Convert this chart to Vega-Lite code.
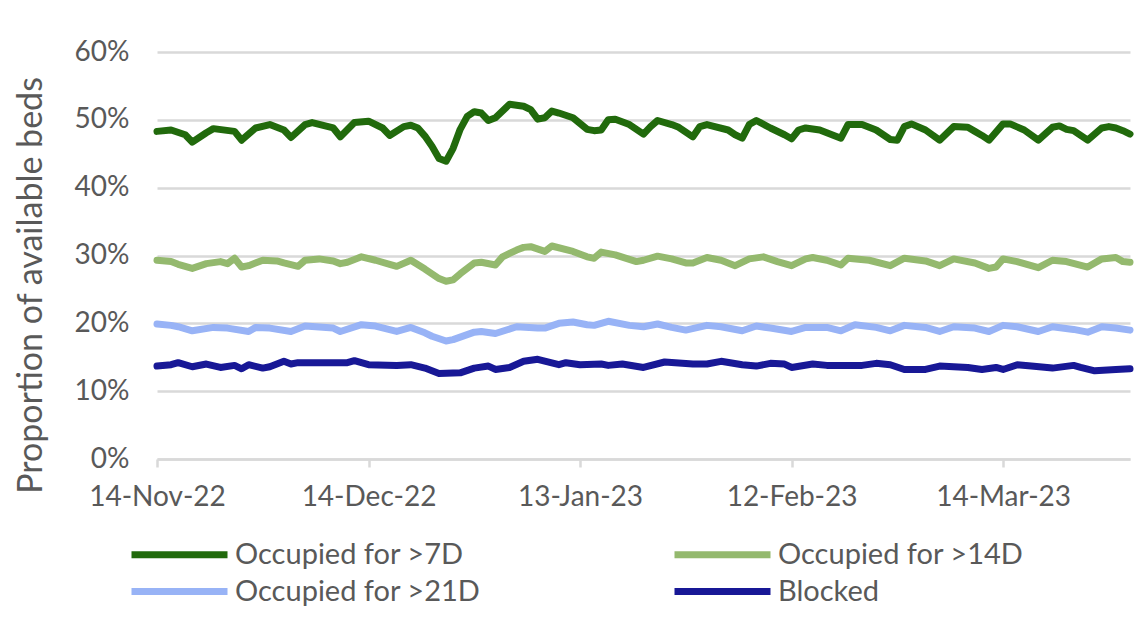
{
  "$schema": "https://vega.github.io/schema/vega-lite/v6.json",
  "width": 973,
  "height": 407,
  "autosize": {"type": "none"},
  "padding": {"left": 157, "top": 52, "right": 12, "bottom": 183},
  "background": "white",
  "config": {"font": "Lato", "view": {"stroke": null}},
  "datasets": {
    "beds": [
      {"s": "Occupied for >7D", "d": "2022-11-14", "v": 48.3},
      {"s": "Occupied for >7D", "d": "2022-11-16", "v": 48.5},
      {"s": "Occupied for >7D", "d": "2022-11-18", "v": 47.8},
      {"s": "Occupied for >7D", "d": "2022-11-19", "v": 46.7},
      {"s": "Occupied for >7D", "d": "2022-11-21", "v": 48.1},
      {"s": "Occupied for >7D", "d": "2022-11-22", "v": 48.7},
      {"s": "Occupied for >7D", "d": "2022-11-25", "v": 48.3},
      {"s": "Occupied for >7D", "d": "2022-11-26", "v": 47.0},
      {"s": "Occupied for >7D", "d": "2022-11-28", "v": 48.8},
      {"s": "Occupied for >7D", "d": "2022-11-30", "v": 49.3},
      {"s": "Occupied for >7D", "d": "2022-12-02", "v": 48.5},
      {"s": "Occupied for >7D", "d": "2022-12-03", "v": 47.4},
      {"s": "Occupied for >7D", "d": "2022-12-05", "v": 49.3},
      {"s": "Occupied for >7D", "d": "2022-12-06", "v": 49.6},
      {"s": "Occupied for >7D", "d": "2022-12-09", "v": 48.8},
      {"s": "Occupied for >7D", "d": "2022-12-10", "v": 47.5},
      {"s": "Occupied for >7D", "d": "2022-12-12", "v": 49.6},
      {"s": "Occupied for >7D", "d": "2022-12-14", "v": 49.8},
      {"s": "Occupied for >7D", "d": "2022-12-16", "v": 48.8},
      {"s": "Occupied for >7D", "d": "2022-12-17", "v": 47.7},
      {"s": "Occupied for >7D", "d": "2022-12-19", "v": 49.0},
      {"s": "Occupied for >7D", "d": "2022-12-20", "v": 49.2},
      {"s": "Occupied for >7D", "d": "2022-12-21", "v": 48.8},
      {"s": "Occupied for >7D", "d": "2022-12-22", "v": 47.6},
      {"s": "Occupied for >7D", "d": "2022-12-23", "v": 46.1},
      {"s": "Occupied for >7D", "d": "2022-12-24", "v": 44.3},
      {"s": "Occupied for >7D", "d": "2022-12-25", "v": 43.9},
      {"s": "Occupied for >7D", "d": "2022-12-26", "v": 45.8},
      {"s": "Occupied for >7D", "d": "2022-12-27", "v": 48.6},
      {"s": "Occupied for >7D", "d": "2022-12-28", "v": 50.5},
      {"s": "Occupied for >7D", "d": "2022-12-29", "v": 51.2},
      {"s": "Occupied for >7D", "d": "2022-12-30", "v": 51.0},
      {"s": "Occupied for >7D", "d": "2022-12-31", "v": 49.9},
      {"s": "Occupied for >7D", "d": "2023-01-01", "v": 50.3},
      {"s": "Occupied for >7D", "d": "2023-01-03", "v": 52.3},
      {"s": "Occupied for >7D", "d": "2023-01-05", "v": 52.0},
      {"s": "Occupied for >7D", "d": "2023-01-06", "v": 51.5},
      {"s": "Occupied for >7D", "d": "2023-01-07", "v": 50.1},
      {"s": "Occupied for >7D", "d": "2023-01-08", "v": 50.3},
      {"s": "Occupied for >7D", "d": "2023-01-09", "v": 51.3},
      {"s": "Occupied for >7D", "d": "2023-01-10", "v": 51.0},
      {"s": "Occupied for >7D", "d": "2023-01-12", "v": 50.3},
      {"s": "Occupied for >7D", "d": "2023-01-14", "v": 48.6},
      {"s": "Occupied for >7D", "d": "2023-01-15", "v": 48.4},
      {"s": "Occupied for >7D", "d": "2023-01-16", "v": 48.5},
      {"s": "Occupied for >7D", "d": "2023-01-17", "v": 50.0},
      {"s": "Occupied for >7D", "d": "2023-01-18", "v": 50.1},
      {"s": "Occupied for >7D", "d": "2023-01-20", "v": 49.3},
      {"s": "Occupied for >7D", "d": "2023-01-21", "v": 48.6},
      {"s": "Occupied for >7D", "d": "2023-01-22", "v": 47.9},
      {"s": "Occupied for >7D", "d": "2023-01-23", "v": 49.0},
      {"s": "Occupied for >7D", "d": "2023-01-24", "v": 49.9},
      {"s": "Occupied for >7D", "d": "2023-01-26", "v": 49.3},
      {"s": "Occupied for >7D", "d": "2023-01-27", "v": 48.9},
      {"s": "Occupied for >7D", "d": "2023-01-29", "v": 47.5},
      {"s": "Occupied for >7D", "d": "2023-01-30", "v": 49.0},
      {"s": "Occupied for >7D", "d": "2023-01-31", "v": 49.3},
      {"s": "Occupied for >7D", "d": "2023-02-03", "v": 48.5},
      {"s": "Occupied for >7D", "d": "2023-02-04", "v": 47.8},
      {"s": "Occupied for >7D", "d": "2023-02-05", "v": 47.3},
      {"s": "Occupied for >7D", "d": "2023-02-06", "v": 49.3},
      {"s": "Occupied for >7D", "d": "2023-02-07", "v": 49.9},
      {"s": "Occupied for >7D", "d": "2023-02-09", "v": 48.8},
      {"s": "Occupied for >7D", "d": "2023-02-11", "v": 47.8},
      {"s": "Occupied for >7D", "d": "2023-02-12", "v": 47.2},
      {"s": "Occupied for >7D", "d": "2023-02-13", "v": 48.5},
      {"s": "Occupied for >7D", "d": "2023-02-14", "v": 48.8},
      {"s": "Occupied for >7D", "d": "2023-02-16", "v": 48.5},
      {"s": "Occupied for >7D", "d": "2023-02-19", "v": 47.3},
      {"s": "Occupied for >7D", "d": "2023-02-20", "v": 49.3},
      {"s": "Occupied for >7D", "d": "2023-02-22", "v": 49.3},
      {"s": "Occupied for >7D", "d": "2023-02-24", "v": 48.5},
      {"s": "Occupied for >7D", "d": "2023-02-26", "v": 47.1},
      {"s": "Occupied for >7D", "d": "2023-02-27", "v": 47.0},
      {"s": "Occupied for >7D", "d": "2023-02-28", "v": 49.0},
      {"s": "Occupied for >7D", "d": "2023-03-01", "v": 49.4},
      {"s": "Occupied for >7D", "d": "2023-03-03", "v": 48.5},
      {"s": "Occupied for >7D", "d": "2023-03-05", "v": 47.0},
      {"s": "Occupied for >7D", "d": "2023-03-07", "v": 49.0},
      {"s": "Occupied for >7D", "d": "2023-03-09", "v": 48.9},
      {"s": "Occupied for >7D", "d": "2023-03-10", "v": 48.3},
      {"s": "Occupied for >7D", "d": "2023-03-11", "v": 47.7},
      {"s": "Occupied for >7D", "d": "2023-03-12", "v": 47.0},
      {"s": "Occupied for >7D", "d": "2023-03-14", "v": 49.4},
      {"s": "Occupied for >7D", "d": "2023-03-15", "v": 49.4},
      {"s": "Occupied for >7D", "d": "2023-03-17", "v": 48.5},
      {"s": "Occupied for >7D", "d": "2023-03-19", "v": 47.0},
      {"s": "Occupied for >7D", "d": "2023-03-21", "v": 48.9},
      {"s": "Occupied for >7D", "d": "2023-03-22", "v": 49.1},
      {"s": "Occupied for >7D", "d": "2023-03-23", "v": 48.6},
      {"s": "Occupied for >7D", "d": "2023-03-24", "v": 48.4},
      {"s": "Occupied for >7D", "d": "2023-03-26", "v": 47.0},
      {"s": "Occupied for >7D", "d": "2023-03-28", "v": 48.8},
      {"s": "Occupied for >7D", "d": "2023-03-29", "v": 49.0},
      {"s": "Occupied for >7D", "d": "2023-03-30", "v": 48.8},
      {"s": "Occupied for >7D", "d": "2023-03-31", "v": 48.4},
      {"s": "Occupied for >7D", "d": "2023-04-01", "v": 47.9},

      {"s": "Occupied for >14D", "d": "2022-11-14", "v": 29.3},
      {"s": "Occupied for >14D", "d": "2022-11-16", "v": 29.1},
      {"s": "Occupied for >14D", "d": "2022-11-17", "v": 28.7},
      {"s": "Occupied for >14D", "d": "2022-11-19", "v": 28.1},
      {"s": "Occupied for >14D", "d": "2022-11-21", "v": 28.8},
      {"s": "Occupied for >14D", "d": "2022-11-23", "v": 29.1},
      {"s": "Occupied for >14D", "d": "2022-11-24", "v": 28.8},
      {"s": "Occupied for >14D", "d": "2022-11-25", "v": 29.6},
      {"s": "Occupied for >14D", "d": "2022-11-26", "v": 28.3},
      {"s": "Occupied for >14D", "d": "2022-11-27", "v": 28.5},
      {"s": "Occupied for >14D", "d": "2022-11-29", "v": 29.3},
      {"s": "Occupied for >14D", "d": "2022-12-01", "v": 29.2},
      {"s": "Occupied for >14D", "d": "2022-12-02", "v": 28.9},
      {"s": "Occupied for >14D", "d": "2022-12-04", "v": 28.4},
      {"s": "Occupied for >14D", "d": "2022-12-05", "v": 29.3},
      {"s": "Occupied for >14D", "d": "2022-12-07", "v": 29.5},
      {"s": "Occupied for >14D", "d": "2022-12-09", "v": 29.2},
      {"s": "Occupied for >14D", "d": "2022-12-10", "v": 28.8},
      {"s": "Occupied for >14D", "d": "2022-12-11", "v": 29.0},
      {"s": "Occupied for >14D", "d": "2022-12-13", "v": 29.8},
      {"s": "Occupied for >14D", "d": "2022-12-15", "v": 29.3},
      {"s": "Occupied for >14D", "d": "2022-12-17", "v": 28.7},
      {"s": "Occupied for >14D", "d": "2022-12-18", "v": 28.4},
      {"s": "Occupied for >14D", "d": "2022-12-20", "v": 29.3},
      {"s": "Occupied for >14D", "d": "2022-12-22", "v": 28.0},
      {"s": "Occupied for >14D", "d": "2022-12-23", "v": 27.3},
      {"s": "Occupied for >14D", "d": "2022-12-24", "v": 26.6},
      {"s": "Occupied for >14D", "d": "2022-12-25", "v": 26.2},
      {"s": "Occupied for >14D", "d": "2022-12-26", "v": 26.4},
      {"s": "Occupied for >14D", "d": "2022-12-27", "v": 27.3},
      {"s": "Occupied for >14D", "d": "2022-12-29", "v": 28.9},
      {"s": "Occupied for >14D", "d": "2022-12-30", "v": 29.0},
      {"s": "Occupied for >14D", "d": "2023-01-01", "v": 28.6},
      {"s": "Occupied for >14D", "d": "2023-01-02", "v": 29.8},
      {"s": "Occupied for >14D", "d": "2023-01-04", "v": 30.8},
      {"s": "Occupied for >14D", "d": "2023-01-05", "v": 31.2},
      {"s": "Occupied for >14D", "d": "2023-01-06", "v": 31.3},
      {"s": "Occupied for >14D", "d": "2023-01-08", "v": 30.6},
      {"s": "Occupied for >14D", "d": "2023-01-09", "v": 31.4},
      {"s": "Occupied for >14D", "d": "2023-01-12", "v": 30.6},
      {"s": "Occupied for >14D", "d": "2023-01-14", "v": 29.8},
      {"s": "Occupied for >14D", "d": "2023-01-15", "v": 29.6},
      {"s": "Occupied for >14D", "d": "2023-01-16", "v": 30.5},
      {"s": "Occupied for >14D", "d": "2023-01-18", "v": 30.1},
      {"s": "Occupied for >14D", "d": "2023-01-21", "v": 29.1},
      {"s": "Occupied for >14D", "d": "2023-01-22", "v": 29.3},
      {"s": "Occupied for >14D", "d": "2023-01-24", "v": 29.9},
      {"s": "Occupied for >14D", "d": "2023-01-26", "v": 29.5},
      {"s": "Occupied for >14D", "d": "2023-01-28", "v": 28.9},
      {"s": "Occupied for >14D", "d": "2023-01-29", "v": 28.9},
      {"s": "Occupied for >14D", "d": "2023-01-31", "v": 29.7},
      {"s": "Occupied for >14D", "d": "2023-02-02", "v": 29.3},
      {"s": "Occupied for >14D", "d": "2023-02-04", "v": 28.5},
      {"s": "Occupied for >14D", "d": "2023-02-06", "v": 29.5},
      {"s": "Occupied for >14D", "d": "2023-02-08", "v": 29.8},
      {"s": "Occupied for >14D", "d": "2023-02-10", "v": 29.1},
      {"s": "Occupied for >14D", "d": "2023-02-12", "v": 28.5},
      {"s": "Occupied for >14D", "d": "2023-02-14", "v": 29.5},
      {"s": "Occupied for >14D", "d": "2023-02-15", "v": 29.7},
      {"s": "Occupied for >14D", "d": "2023-02-17", "v": 29.3},
      {"s": "Occupied for >14D", "d": "2023-02-19", "v": 28.6},
      {"s": "Occupied for >14D", "d": "2023-02-20", "v": 29.6},
      {"s": "Occupied for >14D", "d": "2023-02-23", "v": 29.3},
      {"s": "Occupied for >14D", "d": "2023-02-26", "v": 28.5},
      {"s": "Occupied for >14D", "d": "2023-02-28", "v": 29.6},
      {"s": "Occupied for >14D", "d": "2023-03-03", "v": 29.2},
      {"s": "Occupied for >14D", "d": "2023-03-05", "v": 28.5},
      {"s": "Occupied for >14D", "d": "2023-03-07", "v": 29.5},
      {"s": "Occupied for >14D", "d": "2023-03-10", "v": 28.9},
      {"s": "Occupied for >14D", "d": "2023-03-12", "v": 28.1},
      {"s": "Occupied for >14D", "d": "2023-03-13", "v": 28.3},
      {"s": "Occupied for >14D", "d": "2023-03-14", "v": 29.5},
      {"s": "Occupied for >14D", "d": "2023-03-16", "v": 29.1},
      {"s": "Occupied for >14D", "d": "2023-03-19", "v": 28.2},
      {"s": "Occupied for >14D", "d": "2023-03-21", "v": 29.3},
      {"s": "Occupied for >14D", "d": "2023-03-23", "v": 29.1},
      {"s": "Occupied for >14D", "d": "2023-03-26", "v": 28.3},
      {"s": "Occupied for >14D", "d": "2023-03-28", "v": 29.5},
      {"s": "Occupied for >14D", "d": "2023-03-30", "v": 29.7},
      {"s": "Occupied for >14D", "d": "2023-03-31", "v": 29.1},
      {"s": "Occupied for >14D", "d": "2023-04-01", "v": 29.0},

      {"s": "Occupied for >21D", "d": "2022-11-14", "v": 19.9},
      {"s": "Occupied for >21D", "d": "2022-11-16", "v": 19.7},
      {"s": "Occupied for >21D", "d": "2022-11-17", "v": 19.5},
      {"s": "Occupied for >21D", "d": "2022-11-19", "v": 18.9},
      {"s": "Occupied for >21D", "d": "2022-11-22", "v": 19.4},
      {"s": "Occupied for >21D", "d": "2022-11-24", "v": 19.3},
      {"s": "Occupied for >21D", "d": "2022-11-27", "v": 18.8},
      {"s": "Occupied for >21D", "d": "2022-11-28", "v": 19.4},
      {"s": "Occupied for >21D", "d": "2022-11-30", "v": 19.3},
      {"s": "Occupied for >21D", "d": "2022-12-03", "v": 18.8},
      {"s": "Occupied for >21D", "d": "2022-12-05", "v": 19.6},
      {"s": "Occupied for >21D", "d": "2022-12-09", "v": 19.3},
      {"s": "Occupied for >21D", "d": "2022-12-10", "v": 18.8},
      {"s": "Occupied for >21D", "d": "2022-12-13", "v": 19.8},
      {"s": "Occupied for >21D", "d": "2022-12-15", "v": 19.6},
      {"s": "Occupied for >21D", "d": "2022-12-18", "v": 18.8},
      {"s": "Occupied for >21D", "d": "2022-12-20", "v": 19.4},
      {"s": "Occupied for >21D", "d": "2022-12-22", "v": 18.6},
      {"s": "Occupied for >21D", "d": "2022-12-23", "v": 18.1},
      {"s": "Occupied for >21D", "d": "2022-12-25", "v": 17.4},
      {"s": "Occupied for >21D", "d": "2022-12-26", "v": 17.6},
      {"s": "Occupied for >21D", "d": "2022-12-29", "v": 18.7},
      {"s": "Occupied for >21D", "d": "2022-12-30", "v": 18.8},
      {"s": "Occupied for >21D", "d": "2023-01-01", "v": 18.5},
      {"s": "Occupied for >21D", "d": "2023-01-04", "v": 19.5},
      {"s": "Occupied for >21D", "d": "2023-01-07", "v": 19.3},
      {"s": "Occupied for >21D", "d": "2023-01-08", "v": 19.3},
      {"s": "Occupied for >21D", "d": "2023-01-10", "v": 20.0},
      {"s": "Occupied for >21D", "d": "2023-01-12", "v": 20.2},
      {"s": "Occupied for >21D", "d": "2023-01-14", "v": 19.8},
      {"s": "Occupied for >21D", "d": "2023-01-15", "v": 19.7},
      {"s": "Occupied for >21D", "d": "2023-01-17", "v": 20.3},
      {"s": "Occupied for >21D", "d": "2023-01-20", "v": 19.7},
      {"s": "Occupied for >21D", "d": "2023-01-22", "v": 19.5},
      {"s": "Occupied for >21D", "d": "2023-01-24", "v": 19.9},
      {"s": "Occupied for >21D", "d": "2023-01-26", "v": 19.4},
      {"s": "Occupied for >21D", "d": "2023-01-28", "v": 19.0},
      {"s": "Occupied for >21D", "d": "2023-01-31", "v": 19.7},
      {"s": "Occupied for >21D", "d": "2023-02-02", "v": 19.5},
      {"s": "Occupied for >21D", "d": "2023-02-05", "v": 18.9},
      {"s": "Occupied for >21D", "d": "2023-02-07", "v": 19.6},
      {"s": "Occupied for >21D", "d": "2023-02-09", "v": 19.3},
      {"s": "Occupied for >21D", "d": "2023-02-12", "v": 18.8},
      {"s": "Occupied for >21D", "d": "2023-02-14", "v": 19.4},
      {"s": "Occupied for >21D", "d": "2023-02-17", "v": 19.4},
      {"s": "Occupied for >21D", "d": "2023-02-19", "v": 18.9},
      {"s": "Occupied for >21D", "d": "2023-02-21", "v": 19.8},
      {"s": "Occupied for >21D", "d": "2023-02-24", "v": 19.4},
      {"s": "Occupied for >21D", "d": "2023-02-26", "v": 18.9},
      {"s": "Occupied for >21D", "d": "2023-02-28", "v": 19.7},
      {"s": "Occupied for >21D", "d": "2023-03-03", "v": 19.4},
      {"s": "Occupied for >21D", "d": "2023-03-05", "v": 18.8},
      {"s": "Occupied for >21D", "d": "2023-03-07", "v": 19.5},
      {"s": "Occupied for >21D", "d": "2023-03-10", "v": 19.3},
      {"s": "Occupied for >21D", "d": "2023-03-12", "v": 18.8},
      {"s": "Occupied for >21D", "d": "2023-03-14", "v": 19.7},
      {"s": "Occupied for >21D", "d": "2023-03-16", "v": 19.5},
      {"s": "Occupied for >21D", "d": "2023-03-19", "v": 18.8},
      {"s": "Occupied for >21D", "d": "2023-03-21", "v": 19.5},
      {"s": "Occupied for >21D", "d": "2023-03-24", "v": 19.1},
      {"s": "Occupied for >21D", "d": "2023-03-26", "v": 18.7},
      {"s": "Occupied for >21D", "d": "2023-03-28", "v": 19.5},
      {"s": "Occupied for >21D", "d": "2023-03-30", "v": 19.3},
      {"s": "Occupied for >21D", "d": "2023-04-01", "v": 19.0},

      {"s": "Blocked", "d": "2022-11-14", "v": 13.7},
      {"s": "Blocked", "d": "2022-11-16", "v": 13.9},
      {"s": "Blocked", "d": "2022-11-17", "v": 14.2},
      {"s": "Blocked", "d": "2022-11-19", "v": 13.6},
      {"s": "Blocked", "d": "2022-11-21", "v": 14.0},
      {"s": "Blocked", "d": "2022-11-23", "v": 13.5},
      {"s": "Blocked", "d": "2022-11-25", "v": 13.8},
      {"s": "Blocked", "d": "2022-11-26", "v": 13.3},
      {"s": "Blocked", "d": "2022-11-27", "v": 13.9},
      {"s": "Blocked", "d": "2022-11-29", "v": 13.4},
      {"s": "Blocked", "d": "2022-11-30", "v": 13.6},
      {"s": "Blocked", "d": "2022-12-02", "v": 14.4},
      {"s": "Blocked", "d": "2022-12-03", "v": 14.0},
      {"s": "Blocked", "d": "2022-12-04", "v": 14.2},
      {"s": "Blocked", "d": "2022-12-09", "v": 14.2},
      {"s": "Blocked", "d": "2022-12-11", "v": 14.2},
      {"s": "Blocked", "d": "2022-12-12", "v": 14.5},
      {"s": "Blocked", "d": "2022-12-14", "v": 13.9},
      {"s": "Blocked", "d": "2022-12-18", "v": 13.8},
      {"s": "Blocked", "d": "2022-12-20", "v": 13.9},
      {"s": "Blocked", "d": "2022-12-22", "v": 13.4},
      {"s": "Blocked", "d": "2022-12-24", "v": 12.6},
      {"s": "Blocked", "d": "2022-12-27", "v": 12.7},
      {"s": "Blocked", "d": "2022-12-29", "v": 13.4},
      {"s": "Blocked", "d": "2022-12-31", "v": 13.7},
      {"s": "Blocked", "d": "2023-01-01", "v": 13.2},
      {"s": "Blocked", "d": "2023-01-03", "v": 13.5},
      {"s": "Blocked", "d": "2023-01-05", "v": 14.4},
      {"s": "Blocked", "d": "2023-01-07", "v": 14.7},
      {"s": "Blocked", "d": "2023-01-10", "v": 13.9},
      {"s": "Blocked", "d": "2023-01-11", "v": 14.2},
      {"s": "Blocked", "d": "2023-01-13", "v": 13.9},
      {"s": "Blocked", "d": "2023-01-16", "v": 14.0},
      {"s": "Blocked", "d": "2023-01-17", "v": 13.8},
      {"s": "Blocked", "d": "2023-01-19", "v": 14.0},
      {"s": "Blocked", "d": "2023-01-22", "v": 13.5},
      {"s": "Blocked", "d": "2023-01-25", "v": 14.3},
      {"s": "Blocked", "d": "2023-01-29", "v": 14.0},
      {"s": "Blocked", "d": "2023-01-31", "v": 14.0},
      {"s": "Blocked", "d": "2023-02-02", "v": 14.4},
      {"s": "Blocked", "d": "2023-02-05", "v": 13.9},
      {"s": "Blocked", "d": "2023-02-07", "v": 13.7},
      {"s": "Blocked", "d": "2023-02-09", "v": 14.1},
      {"s": "Blocked", "d": "2023-02-11", "v": 14.0},
      {"s": "Blocked", "d": "2023-02-12", "v": 13.5},
      {"s": "Blocked", "d": "2023-02-15", "v": 14.0},
      {"s": "Blocked", "d": "2023-02-17", "v": 13.8},
      {"s": "Blocked", "d": "2023-02-22", "v": 13.8},
      {"s": "Blocked", "d": "2023-02-24", "v": 14.1},
      {"s": "Blocked", "d": "2023-02-26", "v": 13.9},
      {"s": "Blocked", "d": "2023-02-28", "v": 13.2},
      {"s": "Blocked", "d": "2023-03-03", "v": 13.2},
      {"s": "Blocked", "d": "2023-03-05", "v": 13.7},
      {"s": "Blocked", "d": "2023-03-09", "v": 13.5},
      {"s": "Blocked", "d": "2023-03-11", "v": 13.2},
      {"s": "Blocked", "d": "2023-03-13", "v": 13.5},
      {"s": "Blocked", "d": "2023-03-14", "v": 13.2},
      {"s": "Blocked", "d": "2023-03-16", "v": 13.9},
      {"s": "Blocked", "d": "2023-03-18", "v": 13.7},
      {"s": "Blocked", "d": "2023-03-21", "v": 13.4},
      {"s": "Blocked", "d": "2023-03-24", "v": 13.8},
      {"s": "Blocked", "d": "2023-03-25", "v": 13.5},
      {"s": "Blocked", "d": "2023-03-27", "v": 13.0},
      {"s": "Blocked", "d": "2023-03-30", "v": 13.2},
      {"s": "Blocked", "d": "2023-04-01", "v": 13.3}
    ]
  },
  "data": {"name": "beds"},
  "mark": {"type": "line", "strokeWidth": 7, "strokeCap": "round", "strokeJoin": "round"},
  "encoding": {
    "x": {
      "field": "d",
      "type": "temporal",
      "scale": {
        "type": "utc",
        "domain": [
          {"year": 2022, "month": 11, "date": 14, "utc": true},
          {"year": 2023, "month": 4, "date": 1, "utc": true}
        ]
      },
      "axis": {
        "title": null,
        "grid": false,
        "values": [
          {"year": 2022, "month": 11, "date": 14, "utc": true},
          {"year": 2022, "month": 12, "date": 14, "utc": true},
          {"year": 2023, "month": 1, "date": 13, "utc": true},
          {"year": 2023, "month": 2, "date": 12, "utc": true},
          {"year": 2023, "month": 3, "date": 14, "utc": true}
        ],
        "labelExpr": "utcFormat(datum.value, '%d-%b-%y')",
        "domainColor": "#D9D9D9",
        "domainWidth": 2.5,
        "tickColor": "#D9D9D9",
        "tickWidth": 2.5,
        "tickSize": 8,
        "labelFont": "Lato",
        "labelFontSize": 28,
        "labelColor": "#595959",
        "labelPadding": 16,
        "labelFlush": false,
        "labelOverlap": false
      }
    },
    "y": {
      "field": "v",
      "type": "quantitative",
      "scale": {"domain": [0, 60]},
      "axis": {
        "values": [0, 10, 20, 30, 40, 50, 60],
        "labelExpr": "datum.value + '%'",
        "title": "Proportion of available beds",
        "titleFont": "Lato",
        "titleFontSize": 34,
        "titleFontWeight": "normal",
        "titleColor": "#595959",
        "titlePadding": 26,
        "titleY": 233,
        "grid": true,
        "gridColor": "#D9D9D9",
        "gridWidth": 2.5,
        "domain": false,
        "ticks": false,
        "labelPadding": 28,
        "labelFont": "Lato",
        "labelFontSize": 28,
        "labelColor": "#595959"
      }
    },
    "color": {
      "field": "s",
      "type": "nominal",
      "scale": {
        "domain": ["Occupied for >7D", "Occupied for >14D", "Occupied for >21D", "Blocked"],
        "range": ["#216A0C", "#94B96E", "#98B3F6", "#181896"]
      },
      "legend": {
        "title": null,
        "orient": "none",
        "legendX": -29,
        "legendY": 487,
        "direction": "horizontal",
        "columns": 2,
        "symbolType": "M-1,0H7",
        "symbolSize": 576,
        "symbolStrokeWidth": 7,
        "symbolStrokeCap": "round",
        "labelFont": "Lato",
        "labelFontSize": 29,
        "labelColor": "#595959",
        "labelOffset": 76,
        "labelLimit": 400,
        "columnPadding": 179,
        "rowPadding": 6
      }
    }
  }
}
